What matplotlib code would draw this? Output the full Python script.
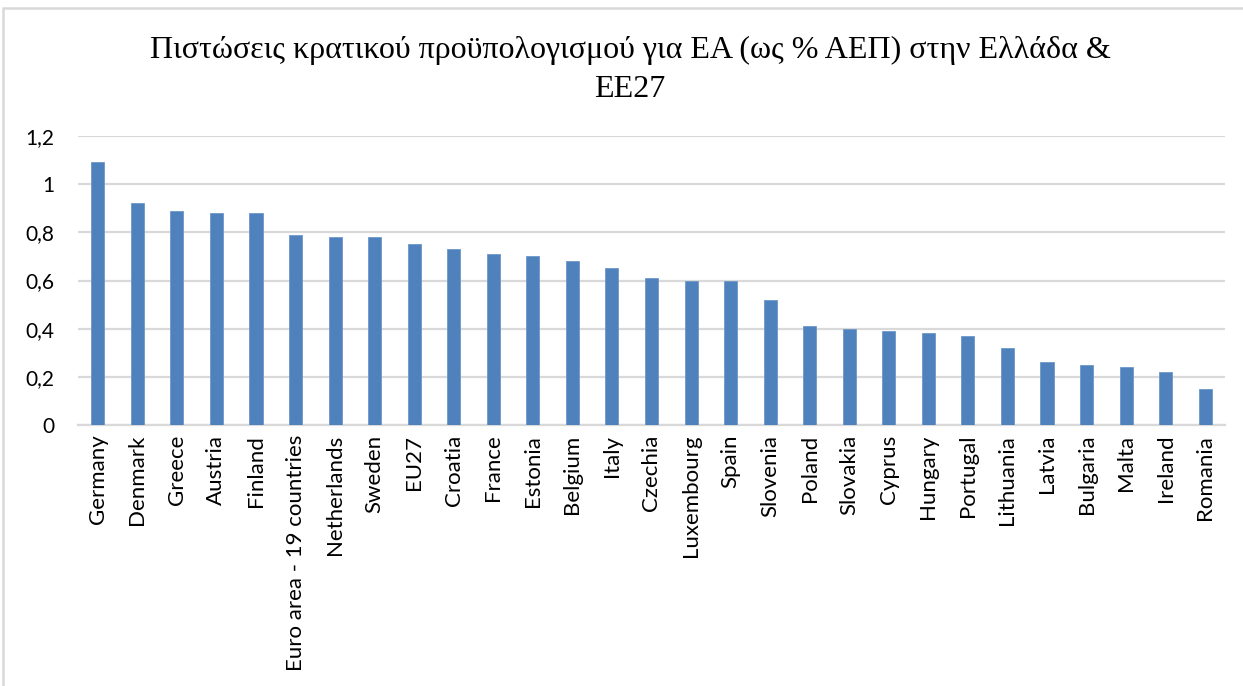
import matplotlib
matplotlib.use("Agg")
import matplotlib.pyplot as plt
from matplotlib.patches import Rectangle
from matplotlib.ticker import FuncFormatter

countries = ["Germany", "Denmark", "Greece", "Austria", "Finland",
             "Euro area - 19 countries", "Netherlands", "Sweden", "EU27",
             "Croatia", "France", "Estonia", "Belgium", "Italy", "Czechia",
             "Luxembourg", "Spain", "Slovenia", "Poland", "Slovakia", "Cyprus",
             "Hungary", "Portugal", "Lithuania", "Latvia", "Bulgaria", "Malta",
             "Ireland", "Romania"]
values = [1.09, 0.92, 0.89, 0.88, 0.88, 0.79, 0.78, 0.78, 0.75, 0.73, 0.71,
          0.70, 0.68, 0.65, 0.61, 0.60, 0.60, 0.52, 0.41, 0.40, 0.39, 0.38,
          0.37, 0.32, 0.26, 0.25, 0.24, 0.22, 0.15]
yticks = [0, 0.2, 0.4, 0.6, 0.8, 1.0, 1.2]
title = "Πιστώσεις κρατικού προϋπολογισμού για ΕΑ (ως % ΑΕΠ) στην Ελλάδα &\nΕΕ27"

W, H = 1243, 686
fig = plt.figure(figsize=(W / 100, H / 100), dpi=100)
fig.patch.set_facecolor("white")

# chart border
fig.patches.append(Rectangle((3 / W, -0.1), 1.2, 1 - 8 / H + 0.1,
                             transform=fig.transFigure, fill=False,
                             edgecolor="#d9d9d9", linewidth=1.8))

ax = fig.add_axes([78 / W, 1 - 425 / H, (1225 - 78) / W, (425 - 136) / H])
x = list(range(len(countries)))
ax.bar(x, values, width=0.33, color="#4f81bd", edgecolor="#6f97c9",
       linewidth=0.6, zorder=3)
ax.set_xlim(-0.5, len(countries) - 0.5)
ax.set_ylim(0, 1.2)
ax.set_yticks(yticks)
ax.yaxis.set_major_formatter(FuncFormatter(
    lambda v, p: ("%g" % round(v, 1)).replace(".", ",")))
ax.grid(axis="y", color="#d9d9d9", linewidth=1.6, zorder=0)
for s in ["top", "right", "left"]:
    ax.spines[s].set_visible(False)
ax.spines["bottom"].set_color("#d9d9d9")
ax.spines["bottom"].set_linewidth(1.6)
ax.tick_params(axis="both", length=0, colors="#000000")
ax.tick_params(axis="y", pad=17, labelsize=15)
ax.tick_params(axis="x", pad=7, labelsize=16)
ax.set_xticks(x)
ax.set_xticklabels(countries, rotation=90, va="top", ha="center")
for lab in ax.get_xticklabels() + ax.get_yticklabels():
    lab.set_fontfamily("Lato")

fig.text(630 / W, 1 - 70 / H, title, ha="center", va="center",
         fontsize=23, family="Liberation Serif", linespacing=1.42)

fig.savefig("out.png", dpi=100)
